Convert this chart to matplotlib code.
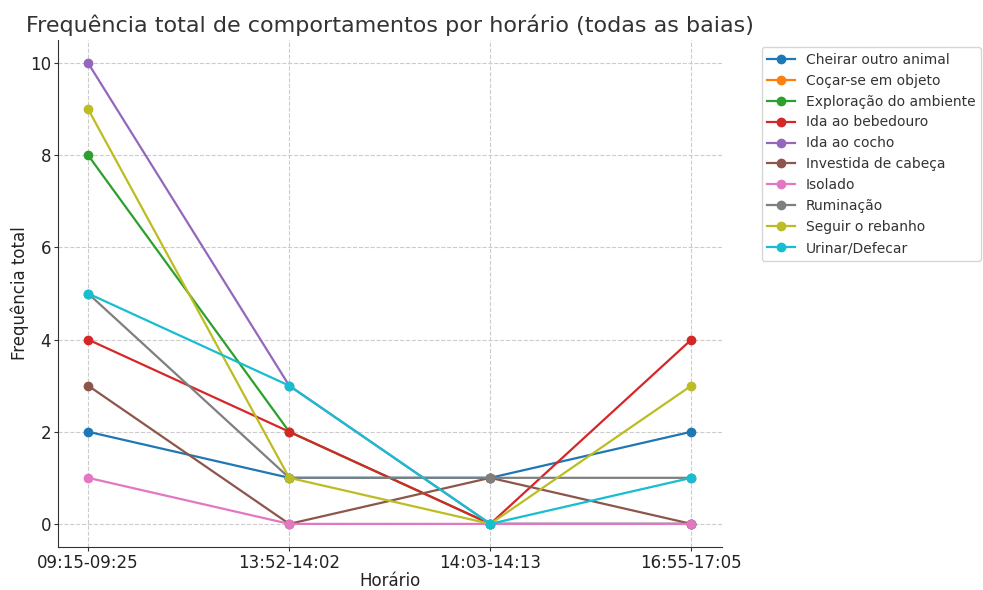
import matplotlib
matplotlib.use("Agg")
import matplotlib.pyplot as plt
import numpy as np

# horarios de observacao
horarios = ['09:15-09:25', '13:52-14:02', '14:03-14:13', '16:55-17:05']

nan = np.nan
cheirar = [2, 1, 1, 2]
cocar = [nan, nan, 1, nan]   # nao aparece no grafico original (fica por baixo)
exploracao = [8, 2, 0, 0]
bebedouro = [4, 2, 0, 4]
cocho = [10, 3, 0, 0]
investida = [3, 0, 1, 0]
isolado = [1, 0, 0, 0]
ruminacao = [5, 1, 1, 1]
seguir = [9, 1, 0, 3]
urinar = [5, 3, 0, 1]

comportamentos = ['Cheirar outro animal', 'Coçar-se em objeto', 'Exploração do ambiente',
                  'Ida ao bebedouro', 'Ida ao cocho', 'Investida de cabeça', 'Isolado',
                  'Ruminação', 'Seguir o rebanho', 'Urinar/Defecar']
valores = [cheirar, cocar, exploracao, bebedouro, cocho, investida, isolado,
           ruminacao, seguir, urinar]

fig, ax = plt.subplots(figsize=(9.83, 5.9), dpi=100)
fig.subplots_adjust(left=0.059, right=0.734, top=0.932, bottom=0.073)

x = np.arange(len(horarios))
for nome, v in zip(comportamentos, valores):
    ax.plot(x, v, marker='o', linewidth=1.6, markersize=6, label=nome)

ax.set_xticks(x)
ax.set_xticklabels(horarios)
ax.set_title('Frequência total de comportamentos por horário (todas as baias)',
             fontsize=16, color='#333333')
ax.set_xlabel('Horário', fontsize=12, color='#222222', labelpad=0)
ax.set_ylabel('Frequência total', fontsize=12, color='#222222', labelpad=1)
ax.tick_params(labelsize=12, length=3, pad=2, colors='#333333', labelcolor='#222222')
ax.grid(True, linestyle='--', color='#cccccc', linewidth=0.8)
ax.spines['top'].set_visible(False)
ax.spines['right'].set_visible(False)
for s in ['left', 'bottom']:
    ax.spines[s].set_color('#333333')
ax.legend(loc='upper left', bbox_to_anchor=(1.05, 1.0), fontsize=10,
          labelcolor='#333333')

plt.savefig('out.png')
